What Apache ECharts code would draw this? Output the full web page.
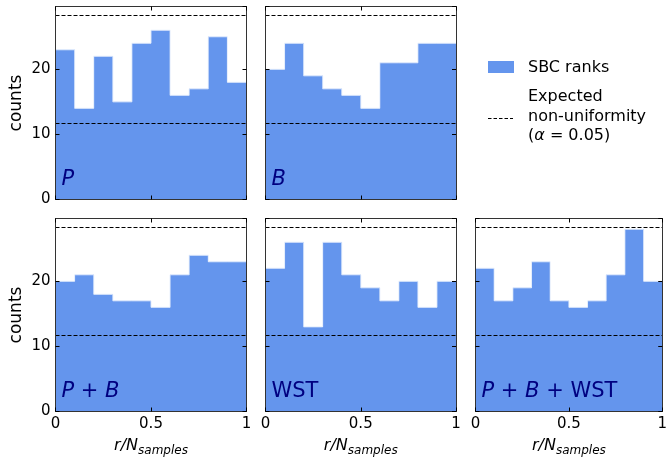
<!DOCTYPE html>
<html>
<head>
<meta charset="utf-8">
<script src="https://cdn.jsdelivr.net/npm/echarts@6/dist/echarts.min.js"></script>
<style>
  html, body { margin: 0; padding: 0; background: #fff; }
  #chart { width: 670px; height: 459px; }
</style>
</head>
<body>
<div id="chart"></div>
<script>
// Rank histograms (10 bins over r/N_samples) for each summary-statistic set
const binEdges = [0, 0.1, 0.2, 0.3, 0.4, 0.5, 0.6, 0.7, 0.8, 0.9, 1.0];
const countsP   = [23, 14, 22, 15, 24, 26, 16, 17, 25, 18];
const countsB   = [20, 24, 19, 17, 16, 14, 21, 21, 24, 24];
const countsPB  = [20, 21, 18, 17, 17, 16, 21, 24, 23, 23];
const countsWST = [22, 26, 13, 26, 21, 19, 17, 20, 16, 20];
const countsPBW = [22, 17, 19, 23, 17, 16, 17, 21, 28, 20];
// 95% band expected from a uniform rank distribution
const bandLower = 11.7;
const bandUpper = 28.3;
const xTicks = [0, 0.5, 1];
const yTicks = [0, 10, 20];
const yMax = 29.65;

const FILL = '#6495ED';
const FONT = 'DejaVu Sans';

const panels = [
  { box: [55.5, 6.5, 191, 193], yl: true,  xl: false, data: countsP,   label: '{i|P}' },
  { box: [265.5, 6.5, 190.5, 193], yl: false, xl: false, data: countsB,   label: '{i|B}' },
  { box: [55.5, 218.5, 191, 193], yl: true,  xl: true,  data: countsPB,  label: '{i|P}{u| + }{i|B}' },
  { box: [265.5, 218.5, 190.5, 193], yl: false, xl: true,  data: countsWST, label: '{u|WST}' },
  { box: [475.5, 218.5, 190, 193], yl: false, xl: true,  data: countsPBW, label: '{i|P}{u| + }{i|B}{u| + WST}' }
];

const grids = [], xAxes = [], yAxes = [], series = [], graphics = [];

panels.forEach((p, gi) => {
  const [l, t, w, h] = p.box;
  grids.push({ left: l, top: t, width: w, height: h, containLabel: false });

  const baseX = {
    type: 'value', gridIndex: gi, min: 0, max: 1, interval: 0.5,
    axisLine: { show: true, onZero: false, lineStyle: { color: '#333', width: 1 } },
    axisTick: { show: true, inside: true, length: 4, lineStyle: { color: '#000', width: 1 } },
    splitLine: { show: false },
    z: 5
  };
  xAxes.push(Object.assign({}, baseX, {
    position: 'bottom',
    axisLabel: { show: p.xl, color: '#000', fontFamily: FONT, fontSize: 15, margin: 5,
      formatter: v => xTicks.includes(v) ? String(v) : '' },
    name: p.xl ? '{a|r/N}{b|samples}' : '',
    nameLocation: 'middle', nameGap: 24,
    nameTextStyle: { rich: {
      a: { fontFamily: FONT, fontSize: 16, fontStyle: 'italic', color: '#000' },
      b: { fontFamily: FONT, fontSize: 12, fontStyle: 'italic', color: '#000', padding: [9, 0, 0, 0] }
    } }
  }));
  xAxes.push(Object.assign({}, baseX, { position: 'top', axisLabel: { show: false } }));

  const baseY = {
    type: 'value', gridIndex: gi, min: 0, max: yMax, interval: 10,
    axisLine: { show: true, onZero: false, lineStyle: { color: '#333', width: 1 } },
    axisTick: { show: true, inside: true, length: 4, lineStyle: { color: '#000', width: 1 } },
    splitLine: { show: false },
    z: 5
  };
  yAxes.push(Object.assign({}, baseY, {
    position: 'left',
    axisLabel: { show: p.yl, color: '#000', fontFamily: FONT, fontSize: 15, margin: 5, showMaxLabel: false,
      formatter: v => yTicks.includes(v) ? String(v) : '' },
    name: p.yl ? 'counts' : '',
    nameLocation: 'middle', nameGap: 30, nameRotate: 90,
    nameTextStyle: { fontFamily: FONT, fontSize: 17, color: '#000' }
  }));
  yAxes.push(Object.assign({}, baseY, { position: 'right', axisLabel: { show: false } }));

  const axIdx = gi * 2;
  const barData = p.data.map((c, i) => [binEdges[i], binEdges[i + 1], c]);

  // filled histogram bins (edges snapped to whole pixels so neighbours join seamlessly)
  series.push({
    type: 'custom', xAxisIndex: axIdx, yAxisIndex: axIdx, z: 2,
    data: barData,
    renderItem: (params, api) => {
      const a = api.coord([api.value(0), api.value(2)]);
      const b = api.coord([api.value(1), 0]);
      const x0 = Math.round(a[0]), x1 = Math.round(b[0]);
      return { type: 'rect', shape: { x: x0, y: a[1], width: x1 - x0, height: b[1] - a[1] },
        style: { fill: FILL } };
    },
    silent: true
  });

  // light step outline along the histogram top
  series.push({
    type: 'custom', xAxisIndex: axIdx, yAxisIndex: axIdx, z: 3,
    data: barData.map((d, i) => [d[0], d[1], d[2], i + 1 < p.data.length ? p.data[i + 1] : d[2]]),
    renderItem: (params, api) => {
      const p0 = api.coord([api.value(0), api.value(2)]);
      const p1 = api.coord([api.value(1), api.value(2)]);
      const p2 = api.coord([api.value(1), api.value(3)]);
      return { type: 'polyline', shape: { points: [p0, p1, p2] },
        style: { stroke: 'rgba(225,235,252,0.9)', lineWidth: 1, fill: null } };
    },
    silent: true
  });

  // dashed non-uniformity band limits
  series.push({
    type: 'line', xAxisIndex: axIdx, yAxisIndex: axIdx, z: 4,
    data: [], symbol: 'none', silent: true,
    markLine: {
      silent: true, symbol: 'none', label: { show: false },
      lineStyle: { color: '#000', type: [4, 2], width: 1 },
      data: [{ yAxis: bandUpper }, { yAxis: bandLower }]
    }
  });

  graphics.push({
    type: 'text', left: l + 6, top: t + h - 30, z: 10,
    style: {
      text: p.label, fill: '#000080',
      rich: {
        i: { fontFamily: FONT, fontSize: 21, fontStyle: 'italic', fill: '#000080' },
        u: { fontFamily: FONT, fontSize: 21, fill: '#000080' }
      }
    }
  });
});

// legend
graphics.push(
  { type: 'rect', left: 488, top: 61, shape: { width: 26, height: 12 }, style: { fill: FILL } },
  { type: 'text', left: 528, top: 60, style: { text: 'SBC ranks', fontFamily: FONT, fontSize: 16, fill: '#000' } },
  { type: 'line', shape: { x1: 488, y1: 118.5, x2: 513, y2: 118.5 },
    style: { stroke: '#000', lineWidth: 1, lineDash: [3.5, 2] } },
  { type: 'text', left: 528, top: 89,
    style: {
      text: '{t|Expected}\n{t|non-uniformity}\n{t|(}{g|α}{t| = 0.05)}',
      rich: {
        t: { fontFamily: FONT, fontSize: 16, lineHeight: 19.5, fill: '#000' },
        g: { fontFamily: FONT, fontSize: 16, lineHeight: 19.5, fontStyle: 'italic', fill: '#000' }
      }
    } }
);

const chart = echarts.init(document.getElementById('chart'), null, { renderer: 'canvas' });
chart.setOption({
  animation: false,
  backgroundColor: '#fff',
  grid: grids,
  xAxis: xAxes,
  yAxis: yAxes,
  series: series,
  graphic: graphics
});
</script>
</body>
</html>
